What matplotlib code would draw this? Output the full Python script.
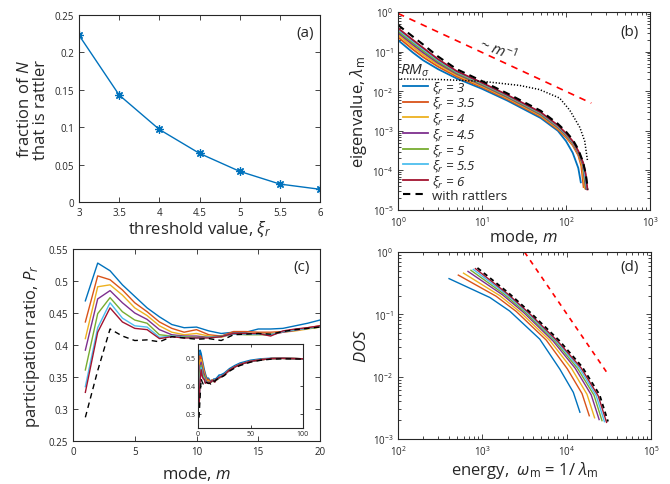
import numpy as np
import matplotlib
matplotlib.use('Agg')
import matplotlib.pyplot as plt
from matplotlib.ticker import FixedLocator, FuncFormatter, LogLocator, NullFormatter

plt.rcParams['font.family'] = ['Open Sans', 'DejaVu Sans']
plt.rcParams['mathtext.fontset'] = 'custom'
plt.rcParams['mathtext.rm'] = 'Open Sans'
plt.rcParams['mathtext.it'] = 'Open Sans:italic'
plt.rcParams['mathtext.bf'] = 'Open Sans:bold'

AX = '#262626'
colors = ['#0072BD', '#D95319', '#EDB120', '#7E2F8E', '#77AC30', '#4DBEEE', '#A2142F']
xi_labels = ['3', '3.5', '4', '4.5', '5', '5.5', '6']

# ---------------- (a) rattler fraction ----------------
xi_vals = [3, 3.5, 4, 4.5, 5, 5.5, 6]
rattler_frac = [0.223, 0.143, 0.097, 0.065, 0.041, 0.024, 0.017]

# ---------------- (b) eigenvalues ----------------
m_blue = [1, 1.5, 2, 3, 5, 10, 20, 50, 80, 100, 120, 140, 150]
lam_blue = [0.195, 0.095, 0.06, 0.036, 0.021, 0.0115, 0.0058, 0.0021, 0.0010, 0.00055, 0.00028, 0.000115, 0.00005]
m_orange = [1, 1.5, 2, 3, 5, 10, 20, 50, 80, 100, 120, 140, 152, 162]
lam_orange = [0.232, 0.114, 0.0721, 0.0417, 0.0234, 0.0126, 0.0063, 0.00229, 0.00108, 0.00068, 0.00043, 0.00024, 0.00013, 0.000038]
m_yellow = [1, 1.5, 2, 3, 5, 10, 20, 50, 80, 100, 120, 140, 155, 168]
lam_yellow = [0.265, 0.1315, 0.0826, 0.0466, 0.0254, 0.01346, 0.0067, 0.00243, 0.00115, 0.00073, 0.00046, 0.00026, 0.00014, 0.000035]
m_purple = [1, 1.5, 2, 3, 5, 10, 20, 50, 80, 100, 120, 140, 158, 173]
lam_purple = [0.30, 0.150, 0.094, 0.0515, 0.0274, 0.0143, 0.0071, 0.00258, 0.00122, 0.00077, 0.000485, 0.000275, 0.000145, 0.000034]
m_green = [1, 1.5, 2, 3, 5, 10, 20, 50, 80, 100, 120, 140, 160, 176]
lam_green = [0.330, 0.1656, 0.104, 0.0558, 0.029, 0.01503, 0.00745, 0.0027, 0.00128, 0.000805, 0.00051, 0.00029, 0.00015, 0.000034]
m_lblue = [1, 1.5, 2, 3, 5, 10, 20, 50, 80, 100, 120, 140, 160, 178]
lam_lblue = [0.364, 0.183, 0.115, 0.0605, 0.0308, 0.0158, 0.0078, 0.00283, 0.00133, 0.00084, 0.00053, 0.00030, 0.000155, 0.000034]
m_red = [1, 1.5, 2, 3, 5, 10, 20, 50, 80, 100, 120, 140, 160, 172, 180]
lam_red = [0.391, 0.198, 0.1236, 0.0643, 0.0321, 0.01637, 0.00805, 0.00293, 0.00138, 0.00087, 0.00055, 0.00031, 0.000155, 0.00008, 0.000033]
m_ratt = [1, 1.5, 2, 3, 5, 10, 20, 50, 80, 100, 120, 140, 160, 172, 182]
lam_ratt = [0.47, 0.24, 0.15, 0.075, 0.036, 0.018, 0.0088, 0.0032, 0.0015, 0.00095, 0.00060, 0.00034, 0.00016, 0.00008, 0.000033]
m_rm = [1, 3, 10, 28, 48.5, 84, 111, 146, 167, 180]
lam_rm = [0.0204, 0.0198, 0.0178, 0.014, 0.011, 0.0067, 0.0033, 0.00122, 0.00055, 0.00018]
m_slope = [1, 200]
lam_slope = [0.92, 0.005]

# ---------------- (c) participation ratio ----------------
modes_c = list(range(1, 21))
pr_blue = [0.469, 0.528, 0.516, 0.494, 0.476, 0.458, 0.444, 0.432, 0.427, 0.428, 0.422, 0.418, 0.420, 0.420, 0.425, 0.425, 0.426, 0.430, 0.434, 0.439]
pr_orange = [0.436, 0.508, 0.502, 0.486, 0.466, 0.452, 0.436, 0.426, 0.420, 0.424, 0.416, 0.414, 0.421, 0.421, 0.420, 0.420, 0.421, 0.424, 0.427, 0.430]
pr_yellow = [0.410, 0.491, 0.494, 0.478, 0.458, 0.446, 0.430, 0.420, 0.416, 0.418, 0.414, 0.412, 0.418, 0.418, 0.418, 0.417, 0.420, 0.422, 0.425, 0.428]
pr_purple = [0.392, 0.472, 0.485, 0.466, 0.450, 0.440, 0.424, 0.416, 0.414, 0.414, 0.412, 0.414, 0.418, 0.418, 0.417, 0.416, 0.420, 0.423, 0.426, 0.429]
pr_green = [0.361, 0.449, 0.474, 0.452, 0.439, 0.434, 0.416, 0.414, 0.413, 0.412, 0.412, 0.414, 0.417, 0.416, 0.416, 0.416, 0.421, 0.424, 0.426, 0.428]
pr_lblue = [0.335, 0.427, 0.466, 0.442, 0.430, 0.428, 0.412, 0.414, 0.412, 0.411, 0.412, 0.413, 0.417, 0.417, 0.417, 0.416, 0.421, 0.424, 0.426, 0.429]
pr_red = [0.326, 0.420, 0.458, 0.436, 0.426, 0.424, 0.410, 0.413, 0.411, 0.411, 0.411, 0.413, 0.418, 0.418, 0.418, 0.414, 0.422, 0.425, 0.427, 0.430]
pr_ratt = [0.287, 0.360, 0.425, 0.414, 0.407, 0.408, 0.405, 0.413, 0.411, 0.409, 0.410, 0.407, 0.416, 0.417, 0.418, 0.417, 0.421, 0.424, 0.426, 0.428]
# continuation (seen in the inset)
modes_ext = [22, 25, 30, 35, 40, 50, 60, 70, 80, 90, 100]
pr_ext_blue = [0.440, 0.446, 0.462, 0.473, 0.482, 0.492, 0.497, 0.499, 0.499, 0.498, 0.497]
pr_ext_rest = [0.433, 0.440, 0.457, 0.468, 0.477, 0.488, 0.494, 0.498, 0.499, 0.498, 0.497]
pr_ext_ratt = [0.431, 0.437, 0.453, 0.464, 0.473, 0.485, 0.492, 0.496, 0.497, 0.497, 0.496]

# ---------------- (d) density of states ----------------
en_blue = [403, 1230, 2109, 4797, 8299, 11995, 14355]
dos_blue = [0.374, 0.186, 0.113, 0.0400, 0.0132, 0.0056, 0.00269]
en_orange = [519, 1459, 2529, 5728, 10162, 15205, 18535]
dos_orange = [0.426, 0.195, 0.111, 0.0386, 0.0134, 0.00536, 0.00236]
en_yellow = [598, 1607, 2805, 6324, 11402, 17418, 21429]
dos_yellow = [0.458, 0.200, 0.109, 0.0379, 0.0136, 0.00522, 0.00219]
en_purple = [676, 1742, 3069, 6902, 12589, 19543, 24266]
dos_purple = [0.488, 0.205, 0.108, 0.0373, 0.0137, 0.00511, 0.00205]
en_green = [733, 1837, 3251, 7295, 13397, 21086, 26242]
dos_green = [0.508, 0.208, 0.107, 0.0369, 0.0137, 0.00504, 0.00197]
en_lblue = [782, 1919, 3404, 7621, 14125, 22387, 28054]
dos_lblue = [0.525, 0.211, 0.107, 0.0366, 0.0138, 0.00498, 0.00190]
en_red = [828, 1995, 3548, 7943, 14791, 23659, 29717]
dos_red = [0.541, 0.213, 0.106, 0.0363, 0.0139, 0.00493, 0.00185]
en_ratt = [875, 2042, 3631, 8222, 15311, 24547, 30903]
dos_ratt = [0.556, 0.221, 0.110, 0.0376, 0.0143, 0.00513, 0.00191]
en_slope = [3160, 31600]
dos_slope = [1.0, 0.0105]


def style(ax, labelsize=7):
    ax.tick_params(which='both', direction='in', top=True, right=True,
                   colors=AX, labelcolor=AX, labelsize=labelsize, width=0.6)
    ax.tick_params(which='major', length=3.5)
    ax.tick_params(which='minor', length=2)
    for s in ax.spines.values():
        s.set_color(AX)
        s.set_linewidth(0.8)


gfmt = FuncFormatter(lambda v, p: '%g' % v)

fig = plt.figure(figsize=(6.7, 4.85), dpi=100)

# (a)
axa = fig.add_axes([79/670, 1-203/485, 241/670, 187/485])
axa.plot(xi_vals, rattler_frac, color=colors[0], lw=1.0, marker=(8, 2, 0), ms=6, mew=0.9)
axa.set_xlim(3, 6)
axa.set_ylim(0, 0.25)
axa.xaxis.set_major_locator(FixedLocator(xi_vals))
axa.yaxis.set_major_locator(FixedLocator([0, 0.05, 0.1, 0.15, 0.2, 0.25]))
axa.xaxis.set_major_formatter(gfmt)
axa.yaxis.set_major_formatter(gfmt)
style(axa)
axa.set_xlabel(r'threshold value, $\xi_r$', fontsize=12, color=AX, labelpad=1)
axa.set_ylabel('fraction of $N$\nthat is rattler', fontsize=12, color=AX, labelpad=4, linespacing=1.0)
axa.text(0.94, 0.909, '(a)', transform=axa.transAxes, ha='center', va='center', fontsize=11, color=AX)

# (b)
axb = fig.add_axes([398/670, 1-211/485, 252/670, 198/485])
b_m = [m_blue, m_orange, m_yellow, m_purple, m_green, m_lblue, m_red]
b_l = [lam_blue, lam_orange, lam_yellow, lam_purple, lam_green, lam_lblue, lam_red]
handles = []
for i in range(7):
    h, = axb.plot(b_m[i], b_l[i], color=colors[i], lw=1.3, label=r'$\xi_r$ = ' + xi_labels[i])
    handles.append(h)
h, = axb.plot(m_ratt, lam_ratt, color='black', lw=1.5, ls=(0, (3.5, 2.5)), label='with rattlers')
handles.append(h)
axb.plot(m_rm, lam_rm, color='black', lw=1.1, ls=(0, (0.8, 1.2)))
axb.plot(m_slope, lam_slope, color='#FF0000', lw=1.2, ls=(0, (4, 3.5)))
axb.set_xscale('log')
axb.set_yscale('log')
axb.set_xlim(1, 1000)
axb.set_ylim(1e-5, 1)
axb.yaxis.set_major_locator(LogLocator(base=10, numticks=10))
axb.yaxis.set_minor_locator(LogLocator(base=10, subs=np.arange(2, 10), numticks=10))
axb.yaxis.set_minor_formatter(NullFormatter())
style(axb)
axb.set_xlabel(r'mode, $m$', fontsize=12, color=AX, labelpad=-1)
axb.set_ylabel(r'eigenvalue, $\lambda_\mathrm{m}$', fontsize=12, color=AX, labelpad=2)
axb.text(0.92, 0.90, '(b)', transform=axb.transAxes, ha='center', va='center', fontsize=11, color=AX)
axb.text(1.06, 0.021, r'$RM_\sigma$', fontsize=11, color=AX, ha='left', va='bottom')
axb.text(15.5, 0.118, r'~ $m^{-1}$', fontsize=11, color=AX, ha='center', va='center', rotation=-21)
leg = axb.legend(handles=handles, loc='lower left', bbox_to_anchor=(-0.01, 0.0), frameon=False,
                 fontsize=9.5, handlelength=1.9, handletextpad=0.3, labelspacing=0.0, borderaxespad=0.2)
for t in leg.get_texts()[:7]:
    t.set_fontstyle('italic')
for t in leg.get_texts():
    t.set_color(AX)

# (c)
axc = fig.add_axes([73/670, 1-442/485, 247/670, 192/485])
c_main = [pr_blue, pr_orange, pr_yellow, pr_purple, pr_green, pr_lblue, pr_red]
axins = fig.add_axes([198/670, 1-429/485, 105/670, 84/485])
for ax in (axc, axins):
    for i in range(7):
        ext = pr_ext_blue if i == 0 else pr_ext_rest
        ax.plot(modes_c + modes_ext, c_main[i] + ext, color=colors[i], lw=1.0 if ax is axc else 1.1)
    ax.plot(modes_c + modes_ext, pr_ratt + pr_ext_ratt, color='black', lw=1.0, ls=(0, (4, 3)))
axc.set_xlim(0, 20)
axc.set_ylim(0.25, 0.55)
axc.xaxis.set_major_locator(FixedLocator([0, 5, 10, 15, 20]))
axc.yaxis.set_major_locator(FixedLocator([0.25, 0.3, 0.35, 0.4, 0.45, 0.5, 0.55]))
axc.xaxis.set_major_formatter(gfmt)
axc.yaxis.set_major_formatter(gfmt)
style(axc)
axc.set_xlabel(r'mode, $m$', fontsize=12, color=AX, labelpad=5)
axc.set_ylabel(r'participation ratio, $P_r$', fontsize=12, color=AX, labelpad=5)
axc.text(0.927, 0.91, '(c)', transform=axc.transAxes, ha='center', va='center', fontsize=11, color=AX)
axins.set_xlim(0, 100)
axins.set_ylim(0.25, 0.55)
axins.xaxis.set_major_locator(FixedLocator([0, 50, 100]))
axins.yaxis.set_major_locator(FixedLocator([0.3, 0.4, 0.5]))
axins.xaxis.set_major_formatter(gfmt)
axins.yaxis.set_major_formatter(gfmt)
style(axins, labelsize=5)
axins.tick_params(which='major', length=2, pad=1.5)
axins.set_facecolor('white')

# (d)
axd = fig.add_axes([398/670, 1-440/485, 253/670, 187/485])
d_e = [en_blue, en_orange, en_yellow, en_purple, en_green, en_lblue, en_red]
d_d = [dos_blue, dos_orange, dos_yellow, dos_purple, dos_green, dos_lblue, dos_red]
for i in range(7):
    axd.plot(d_e[i], d_d[i], color=colors[i], lw=1.0)
axd.plot(en_ratt, dos_ratt, color='black', lw=1.3, ls=(0, (2.5, 2)))
axd.plot(en_slope, dos_slope, color='#FF0000', lw=1.2, ls=(0, (3, 3)))
axd.set_xscale('log')
axd.set_yscale('log')
axd.set_xlim(1e2, 1e5)
axd.set_ylim(1e-3, 1)
style(axd)
axd.set_xlabel(r'energy,  $\omega_\mathrm{m}$ = 1/ $\lambda_\mathrm{m}$', fontsize=12, color=AX, labelpad=1)
axd.set_ylabel(r'$DOS$', fontsize=12, color=AX, labelpad=2)
axd.text(0.917, 0.92, '(d)', transform=axd.transAxes, ha='center', va='center', fontsize=11, color=AX)

fig.savefig('out.png', dpi=100)
